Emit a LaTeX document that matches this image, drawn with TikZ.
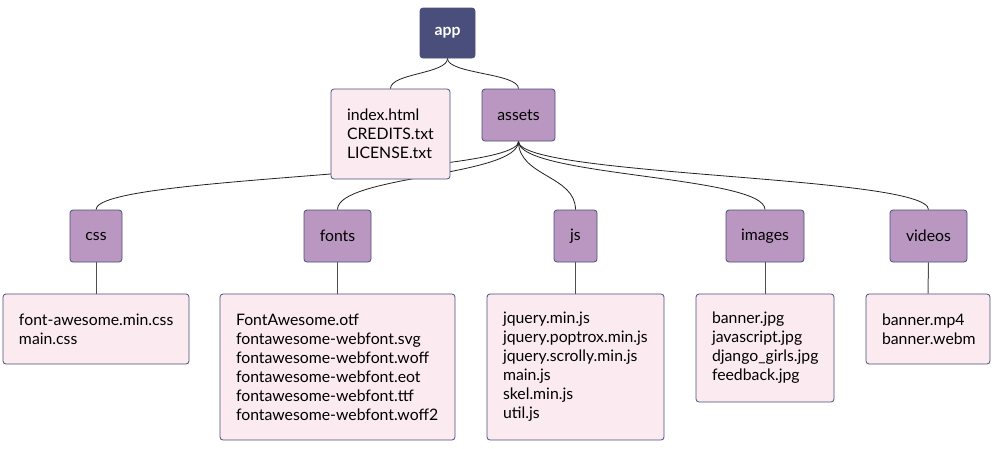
\documentclass[tikz,border=0pt]{standalone}
\usepackage{fontspec}
\setmainfont{Lato}
\usetikzlibrary{backgrounds}
\exhyphenpenalty=10000
\hyphenpenalty=10000
\hfuzz=20pt
\definecolor{appc}{HTML}{4A4E7B}
\definecolor{dirc}{HTML}{B997C0}
\definecolor{filec}{HTML}{FBEAF0}
\definecolor{bordc}{HTML}{4A4E7B}
\definecolor{edgec}{HTML}{222222}
\tikzset{
  box/.style={draw=bordc, line width=0.8pt, rounded corners=3pt, inner sep=0pt, font=\fontsize{15.8}{19}\selectfont},
  appbox/.style={box, fill=appc, text=white, font=\fontsize{15.8}{19}\selectfont\bfseries},
  dirbox/.style={box, fill=dirc, text=black, minimum height=52pt},
  filebox/.style={box, fill=filec, text=black, inner xsep=16pt, align=left},
  edge/.style={draw=edgec, line width=0.8pt},
  vedge/.style={draw=edgec!80, line width=1pt}
}
\begin{document}
\begin{tikzpicture}[x=1pt,y=-1pt]
\useasboundingbox (0,0) rectangle (994,448);
\node[appbox, minimum width=55pt, minimum height=50pt] (app) at (447.5,33) {app};
\node[filebox, text width=87pt, minimum height=90pt] (root) at (390.5,134) {index.html\\CREDITS.txt\\LICENSE.txt};
\node[dirbox, minimum width=73pt] (assets) at (518.5,115) {assets};
\node[dirbox, minimum width=52pt] (css) at (96,236) {css};
\node[dirbox, minimum width=67pt] (fonts) at (337.5,236) {fonts};
\node[dirbox, minimum width=43pt] (js) at (575.5,236) {js};
\node[dirbox, minimum width=78pt] (images) at (765,236) {images};
\node[dirbox, minimum width=77pt] (videos) at (928.5,236) {videos};
\node[filebox, text width=154pt, minimum height=70pt] (cssf) at (96,329) {font-awesome.min.css\\main.css};
\node[filebox, text width=203pt, minimum height=146pt] (fontf) at (337.5,367) {FontAwesome.otf\\fontawesome-webfont.svg\\fontawesome-webfont.woff\\fontawesome-webfont.eot\\fontawesome-webfont.ttf\\fontawesome-webfont.woff2};
\node[filebox, text width=145pt, minimum height=146pt] (jsf) at (575.5,367) {jquery.min.js\\jquery.poptrox.min.js\\jquery.scrolly.min.js\\main.js\\skel.min.js\\util.js};
\node[filebox, text width=106pt, minimum height=108pt] (imgf) at (765,348) {banner.jpg\\javascript.jpg\\django\_girls.jpg\\feedback.jpg};
\node[filebox, text width=92pt, minimum height=70pt] (vidf) at (928,329) {banner.mp4\\banner.webm};
\begin{scope}[on background layer]
\draw[edge] (app.south) .. controls +(0,15.5) and +(0,-15.5) .. (root.north);
\draw[edge] (app.south) .. controls +(0,15.5) and +(0,-15.5) .. (assets.north);
\foreach \t in {css,fonts,js,images,videos}{
  \draw[edge] (assets.south) .. controls +(0,35) and +(0,-34) .. (\t.north);
}
\draw[vedge] (css.south) -- (cssf.north);
\draw[vedge] (fonts.south) -- (fontf.north);
\draw[vedge] (js.south) -- (jsf.north);
\draw[vedge] (images.south) -- (imgf.north);
\draw[vedge] (videos.south) -- (vidf.north);
\end{scope}
\end{tikzpicture}
\end{document}
